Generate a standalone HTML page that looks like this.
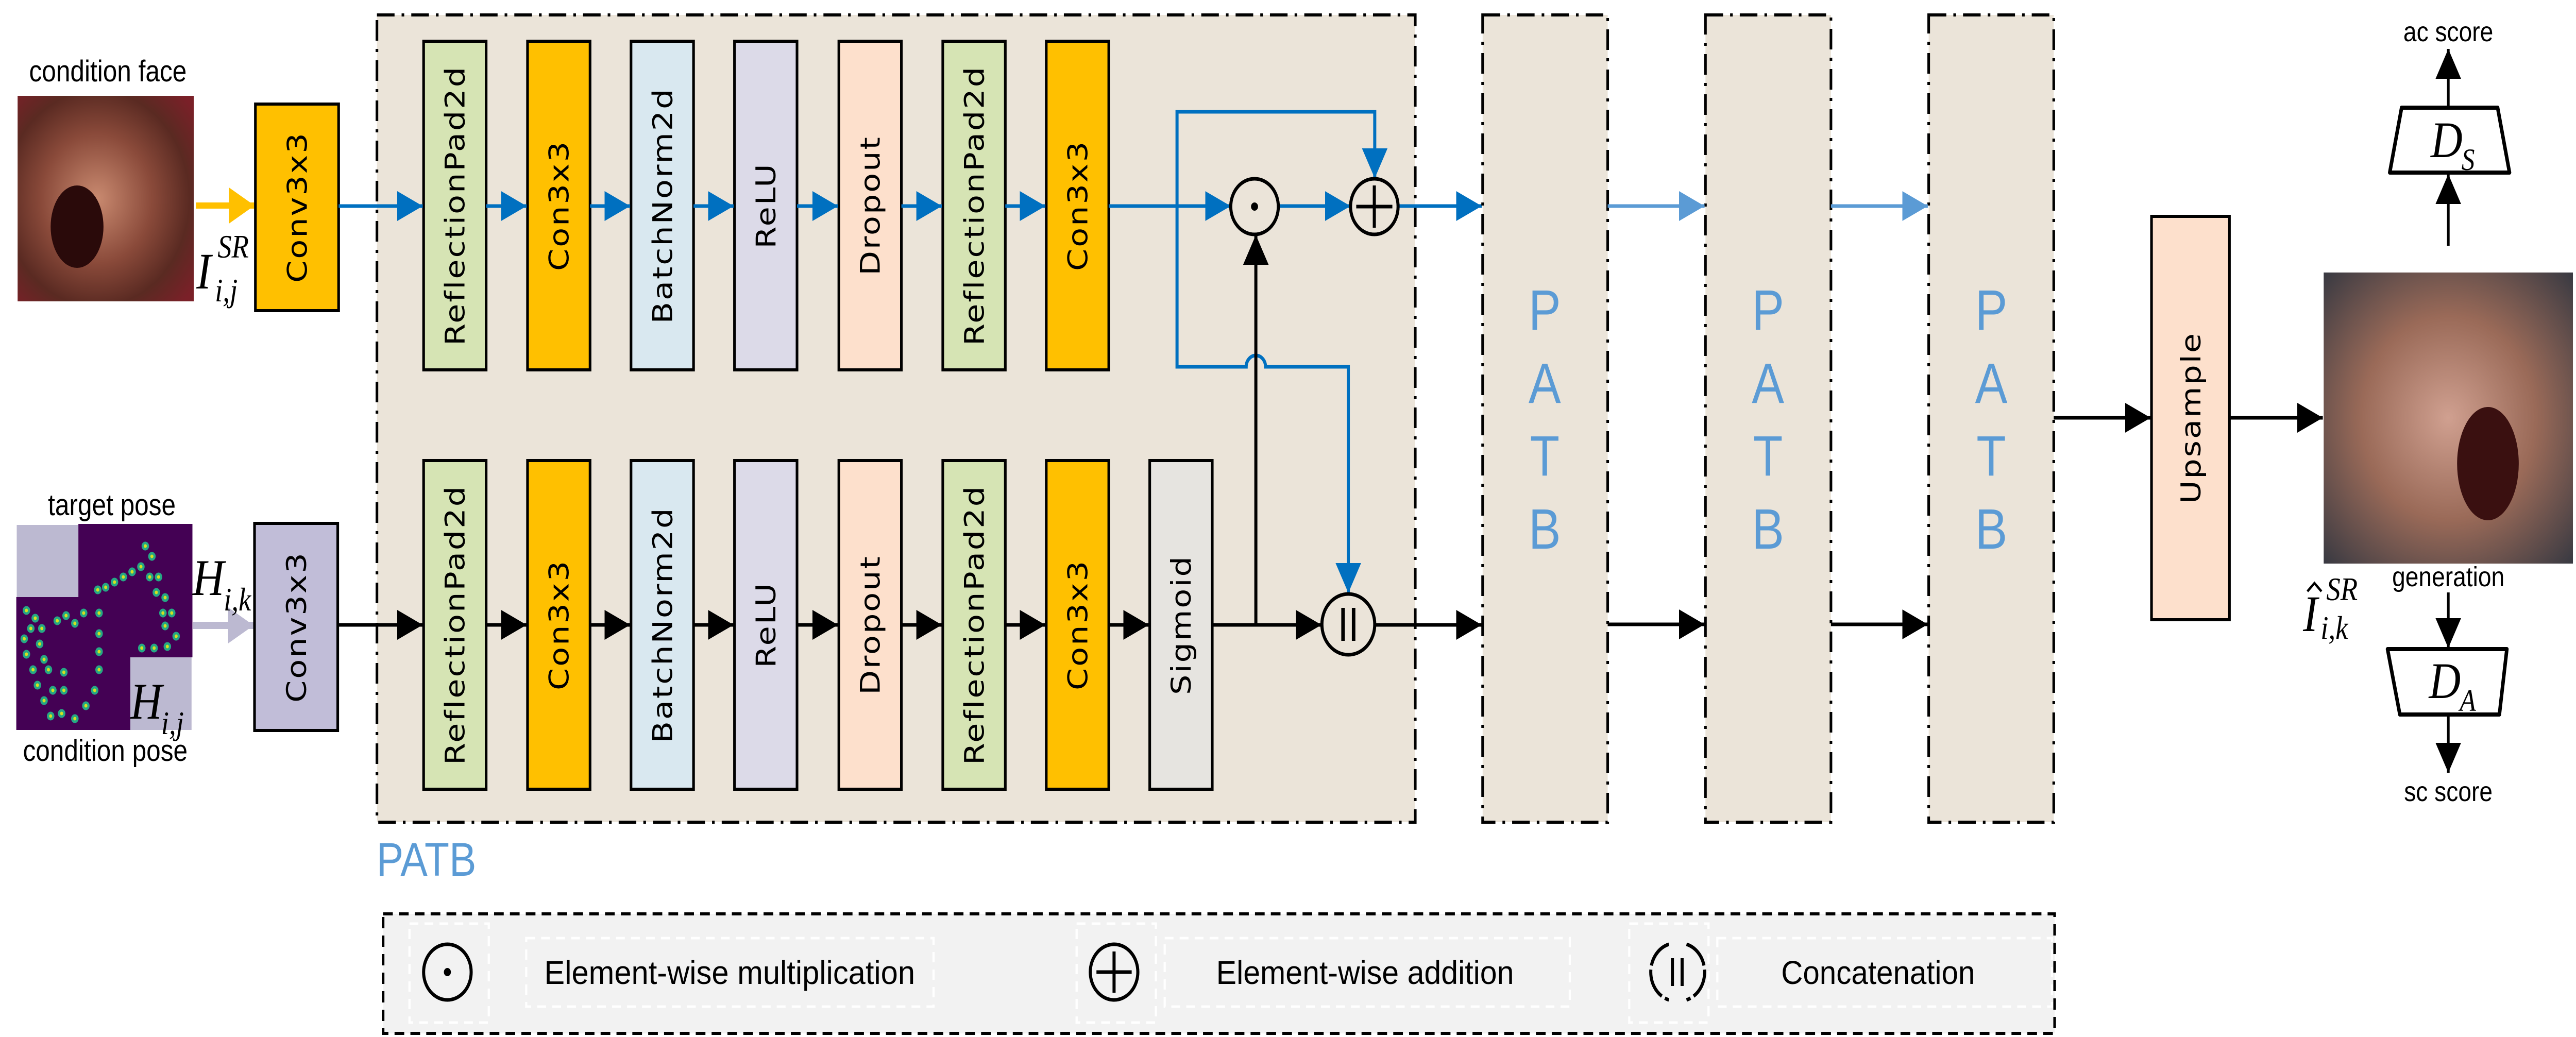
<!DOCTYPE html>
<html><head><meta charset="utf-8"><style>
html,body{margin:0;padding:0;background:#fff;width:100%;height:100%;overflow:hidden;}
svg{display:block;width:100vw;height:100vh;}
.bt{font-family:"DejaVu Sans",sans-serif;font-size:62px;fill:#000;letter-spacing:3px;}
.lb{font-family:"Liberation Sans",sans-serif;fill:#000;}
.mi{font-family:"Liberation Serif",serif;font-style:italic;fill:#000;}
.pt{font-family:"Liberation Sans",sans-serif;font-size:110px;fill:#5b9bd5;}
</style></head><body>
<svg viewBox="0 0 5850 2013" preserveAspectRatio="none" xmlns="http://www.w3.org/2000/svg">
<defs>
<marker id="ab" markerUnits="userSpaceOnUse" markerWidth="60" markerHeight="60" refX="58" refY="29" orient="auto"><path d="M0,0 L58,29 L0,58 Z" fill="#0070c0"/></marker>
<marker id="ak" markerUnits="userSpaceOnUse" markerWidth="60" markerHeight="60" refX="58" refY="29" orient="auto"><path d="M0,0 L58,29 L0,58 Z" fill="#000"/></marker>
<marker id="al" markerUnits="userSpaceOnUse" markerWidth="60" markerHeight="60" refX="58" refY="29" orient="auto"><path d="M0,0 L58,29 L0,58 Z" fill="#5b9bd5"/></marker>
<marker id="ao" markerUnits="userSpaceOnUse" markerWidth="60" markerHeight="80" refX="58" refY="35" orient="auto"><path d="M0,0 L58,35 L0,70 Z" fill="#ffc000"/></marker>
<marker id="ap" markerUnits="userSpaceOnUse" markerWidth="60" markerHeight="80" refX="58" refY="35" orient="auto"><path d="M0,0 L58,35 L0,70 Z" fill="#bcb9d1"/></marker>
<radialGradient id="f1" cx="0.45" cy="0.5" r="0.7"><stop offset="0" stop-color="#c98a70"/><stop offset="0.45" stop-color="#8a4a3a"/><stop offset="0.75" stop-color="#5a2a22"/><stop offset="1" stop-color="#7a2028"/></radialGradient>
<radialGradient id="f2" cx="0.5" cy="0.5" r="0.7"><stop offset="0" stop-color="#d0a090"/><stop offset="0.5" stop-color="#9a6a58"/><stop offset="1" stop-color="#3a3a42"/></radialGradient>
</defs>

<text class="lb" x="245" y="158" font-size="58" text-anchor="middle">condition face</text>
<rect x="40" y="186" width="400" height="399" fill="url(#f1)"/>
<ellipse cx="175" cy="440" rx="60" ry="80" fill="#2a0a0a"/>
<path d="M445,399 L578,399" stroke="#ffc000" stroke-width="12" marker-end="url(#ao)"/>
<text class="mi" x="446" y="560" font-size="100">I</text>
<text class="mi" x="494" y="500" font-size="64">SR</text>
<text class="mi" x="488" y="585" font-size="64">i,j</text>
<rect x="580" y="202" width="189" height="401" fill="#ffc000" stroke="#000" stroke-width="6"/>
<text class="bt" transform="translate(697,402) rotate(-90)" text-anchor="middle">Conv3x3</text>

<text class="lb" x="254" y="1000" font-size="58" text-anchor="middle">target pose</text>
<rect x="38" y="1019" width="140" height="140" fill="#bcb9d1"/>
<rect x="178" y="1017" width="259" height="259" fill="#440154"/>
<rect x="37" y="1159" width="259" height="258" fill="#440154"/>
<rect x="296" y="1276" width="139" height="141" fill="#bcb9d1"/>
<g fill="#d5e21f" stroke="#26a784" stroke-width="5">
<circle cx="330" cy="1060" r="6"/><circle cx="345" cy="1080" r="6"/><circle cx="320" cy="1100" r="6"/><circle cx="300" cy="1110" r="6"/><circle cx="280" cy="1120" r="6"/><circle cx="260" cy="1130" r="6"/><circle cx="240" cy="1140" r="6"/><circle cx="222" cy="1145" r="6"/><circle cx="360" cy="1120" r="6"/><circle cx="375" cy="1160" r="6"/><circle cx="390" cy="1190" r="6"/><circle cx="375" cy="1215" r="6"/><circle cx="400" cy="1235" r="6"/><circle cx="380" cy="1255" r="6"/><circle cx="350" cy="1258" r="6"/><circle cx="322" cy="1258" r="6"/><circle cx="340" cy="1120" r="6"/><circle cx="355" cy="1150" r="6"/><circle cx="370" cy="1190" r="6"/>
<circle cx="60" cy="1185" r="6"/><circle cx="80" cy="1200" r="6"/><circle cx="70" cy="1220" r="6"/><circle cx="55" cy="1240" r="6"/><circle cx="60" cy="1270" r="6"/><circle cx="75" cy="1300" r="6"/><circle cx="85" cy="1330" r="6"/><circle cx="100" cy="1360" r="6"/><circle cx="115" cy="1390" r="6"/><circle cx="140" cy="1385" r="6"/><circle cx="95" cy="1220" r="6"/><circle cx="130" cy="1205" r="6"/><circle cx="150" cy="1195" r="6"/><circle cx="170" cy="1210" r="6"/><circle cx="190" cy="1190" r="6"/><circle cx="225" cy="1190" r="6"/><circle cx="225" cy="1230" r="6"/><circle cx="225" cy="1265" r="6"/><circle cx="225" cy="1300" r="6"/><circle cx="215" cy="1340" r="6"/><circle cx="195" cy="1370" r="6"/><circle cx="170" cy="1395" r="6"/><circle cx="90" cy="1250" r="6"/><circle cx="100" cy="1280" r="6"/><circle cx="110" cy="1300" r="6"/><circle cx="145" cy="1305" r="6"/><circle cx="145" cy="1340" r="6"/><circle cx="120" cy="1340" r="6"/>
</g>
<path d="M438,1214 L576,1214" stroke="#bcb9d1" stroke-width="14" marker-end="url(#ap)"/>
<text class="mi" x="437" y="1155" font-size="100">H</text>
<text class="mi" x="508" y="1185" font-size="64">i,k</text>
<text class="mi" x="296" y="1395" font-size="100">H</text>
<text class="mi" x="366" y="1425" font-size="64">i,j</text>
<text class="lb" x="239" y="1477" font-size="58" text-anchor="middle">condition pose</text>
<rect x="578" y="1016" width="189" height="402" fill="#c1bdd8" stroke="#000" stroke-width="6"/>
<text class="bt" transform="translate(695,1217) rotate(-90)" text-anchor="middle">Conv3x3</text>

<rect x="856" y="29" width="2358" height="1567" fill="#ebe4d9" stroke="#000" stroke-width="6" stroke-dasharray="40 16 6 16"/>
<text x="855" y="1700" font-family="Liberation Sans,sans-serif" font-size="92" fill="#5b9bd5">PATB</text>

<g stroke="#000" stroke-width="6">
<rect x="962" y="80" width="142" height="638" fill="#d6e4b4"/>
<rect x="1198" y="80" width="142" height="638" fill="#ffc000"/>
<rect x="1433" y="80" width="142" height="638" fill="#d9e8f0"/>
<rect x="1668" y="80" width="142" height="638" fill="#dcdae8"/>
<rect x="1905" y="80" width="142" height="638" fill="#fde0cc"/>
<rect x="2141" y="80" width="142" height="638" fill="#d6e4b4"/>
<rect x="2376" y="80" width="142" height="638" fill="#ffc000"/>
<rect x="962" y="894" width="142" height="638" fill="#d6e4b4"/>
<rect x="1198" y="894" width="142" height="638" fill="#ffc000"/>
<rect x="1433" y="894" width="142" height="638" fill="#d9e8f0"/>
<rect x="1668" y="894" width="142" height="638" fill="#dcdae8"/>
<rect x="1905" y="894" width="142" height="638" fill="#fde0cc"/>
<rect x="2141" y="894" width="142" height="638" fill="#d6e4b4"/>
<rect x="2376" y="894" width="142" height="638" fill="#ffc000"/>
<rect x="2611" y="894" width="142" height="638" fill="#e6e4e0"/>
</g>
<g class="bt" text-anchor="middle">
<text transform="translate(1055,399) rotate(-90)">ReflectionPad2d</text>
<text transform="translate(1291,399) rotate(-90)">Con3x3</text>
<text transform="translate(1526,399) rotate(-90)">BatchNorm2d</text>
<text transform="translate(1761,399) rotate(-90)">ReLU</text>
<text transform="translate(1998,399) rotate(-90)">Dropout</text>
<text transform="translate(2234,399) rotate(-90)">ReflectionPad2d</text>
<text transform="translate(2469,399) rotate(-90)">Con3x3</text>
<text transform="translate(1055,1213) rotate(-90)">ReflectionPad2d</text>
<text transform="translate(1291,1213) rotate(-90)">Con3x3</text>
<text transform="translate(1526,1213) rotate(-90)">BatchNorm2d</text>
<text transform="translate(1761,1213) rotate(-90)">ReLU</text>
<text transform="translate(1998,1213) rotate(-90)">Dropout</text>
<text transform="translate(2234,1213) rotate(-90)">ReflectionPad2d</text>
<text transform="translate(2469,1213) rotate(-90)">Con3x3</text>
<text transform="translate(2704,1213) rotate(-90)">Sigmoid</text>
</g>

<g stroke="#0070c0" stroke-width="7" fill="none">
<path d="M769,400 L960,400" marker-end="url(#ab)"/>
<path d="M1104,400 L1196,400" marker-end="url(#ab)"/>
<path d="M1340,400 L1431,400" marker-end="url(#ab)"/>
<path d="M1575,400 L1666,400" marker-end="url(#ab)"/>
<path d="M1810,400 L1903,400" marker-end="url(#ab)"/>
<path d="M2047,400 L2139,400" marker-end="url(#ab)"/>
<path d="M2283,400 L2374,400" marker-end="url(#ab)"/>
<path d="M2518,400 L2795,400" marker-end="url(#ab)"/>
<path d="M2903,400 L3067,400" marker-end="url(#ab)"/>
<path d="M3175,400 L3365,400" marker-end="url(#ab)"/>
<path d="M2673,400 L2673,217 L3122,217 L3122,346" marker-end="url(#ab)"/>
<path d="M2673,400 L2673,712 L2830,712 A22,22 0 0 1 2874,712 L3062,712 L3062,1151" marker-end="url(#ab)"/>
</g>
<g stroke="#000" stroke-width="7" fill="none">
<path d="M767,1213 L960,1213" marker-end="url(#ak)"/>
<path d="M1104,1213 L1196,1213" marker-end="url(#ak)"/>
<path d="M1340,1213 L1431,1213" marker-end="url(#ak)"/>
<path d="M1575,1213 L1666,1213" marker-end="url(#ak)"/>
<path d="M1810,1213 L1903,1213" marker-end="url(#ak)"/>
<path d="M2047,1213 L2139,1213" marker-end="url(#ak)"/>
<path d="M2283,1213 L2374,1213" marker-end="url(#ak)"/>
<path d="M2518,1213 L2609,1213" marker-end="url(#ak)"/>
<path d="M2753,1213 L3001,1213" marker-end="url(#ak)"/>
<path d="M2852,1213 L2852,456" marker-end="url(#ak)"/>
<path d="M3123,1213 L3365,1213" marker-end="url(#ak)"/>
</g>
<g stroke="#000" stroke-width="7" fill="#ebe4d9">
<circle cx="2849" cy="401" r="54"/>
<circle cx="3121" cy="401" r="54"/>
<ellipse cx="3062" cy="1212" rx="60" ry="59"/>
</g>
<circle cx="2849" cy="401" r="8" fill="#000"/>
<path d="M3080,401 L3162,401 M3121,360 L3121,442" stroke="#000" stroke-width="7"/>
<path d="M3050,1180 L3050,1244 M3074,1180 L3074,1244" stroke="#000" stroke-width="8"/>

<g stroke="#000" stroke-width="6" fill="#ebe4d9" stroke-dasharray="40 16 6 16">
<rect x="3367" y="29" width="284" height="1567"/>
<rect x="3873" y="29" width="285" height="1567"/>
<rect x="4380" y="29" width="284" height="1567"/>
</g>
<g class="pt" text-anchor="middle">
<text x="3508" y="640">P</text><text x="3508" y="782">A</text><text x="3508" y="923">T</text><text x="3508" y="1065">B</text>
<text x="4015" y="640">P</text><text x="4015" y="782">A</text><text x="4015" y="923">T</text><text x="4015" y="1065">B</text>
<text x="4522" y="640">P</text><text x="4522" y="782">A</text><text x="4522" y="923">T</text><text x="4522" y="1065">B</text>
</g>
<g stroke="#5b9bd5" stroke-width="7"><path d="M3651,400 L3871,400" marker-end="url(#al)"/><path d="M4158,400 L4378,400" marker-end="url(#al)"/></g>
<g stroke="#000" stroke-width="7" fill="none">
<path d="M3651,1212 L3871,1212" marker-end="url(#ak)"/>
<path d="M4158,1212 L4378,1212" marker-end="url(#ak)"/>
<path d="M4664,811 L4884,811" marker-end="url(#ak)"/>
<path d="M5063,811 L5275,811" marker-end="url(#ak)"/>
</g>
<rect x="4886" y="420" width="177" height="783" fill="#fde0cc" stroke="#000" stroke-width="6"/>
<text class="bt" transform="translate(4997,811) rotate(-90)" text-anchor="middle">Upsample</text>

<rect x="5277" y="529" width="566" height="565" fill="url(#f2)"/>
<ellipse cx="5650" cy="900" rx="70" ry="110" fill="#3a1010"/>
<text class="lb" x="5560" y="1138" font-size="54" text-anchor="middle">generation</text>
<text class="mi" x="5230" y="1225" font-size="100">I</text>
<path d="M5240,1148 L5256,1132 L5272,1148" stroke="#000" stroke-width="5" fill="none"/>
<text class="mi" x="5283" y="1165" font-size="64">SR</text>
<text class="mi" x="5270" y="1240" font-size="64">i,k</text>

<g stroke="#000" stroke-width="6" fill="none">
<path d="M5560,477 L5560,338" marker-end="url(#ak)"/>
<path d="M5560,209 L5560,95" marker-end="url(#ak)"/>
<path d="M5560,1150 L5560,1258" marker-end="url(#ak)"/>
<path d="M5560,1387 L5560,1500" marker-end="url(#ak)"/>
</g>
<g stroke="#000" stroke-width="8" fill="#fff" stroke-linejoin="round">
<path d="M5454,209 L5672,209 L5699,335 L5427,335 Z"/>
<path d="M5422,1260 L5693,1260 L5676,1387 L5450,1387 Z"/>
</g>
<text class="mi" x="5520" y="305" font-size="100">D</text><text class="mi" x="5590" y="330" font-size="60">S</text>
<text class="mi" x="5516" y="1355" font-size="100">D</text><text class="mi" x="5586" y="1380" font-size="60">A</text>
<text class="lb" x="5560" y="80" font-size="54" text-anchor="middle">ac score</text>
<text class="lb" x="5560" y="1555" font-size="54" text-anchor="middle">sc score</text>

<rect x="870" y="1774" width="3796" height="232" fill="#f2f2f2" stroke="#000" stroke-width="6" stroke-dasharray="22 14"/>
<g stroke="#fff" stroke-width="5" fill="none" stroke-dasharray="20 14">
<rect x="930" y="1793" width="180" height="192"/>
<rect x="1195" y="1821" width="925" height="133"/>
<rect x="2445" y="1793" width="180" height="192"/>
<rect x="2645" y="1821" width="920" height="133"/>
<rect x="3700" y="1793" width="180" height="192"/>
<rect x="3900" y="1821" width="760" height="133"/>
</g>
<g stroke="#000" stroke-width="7" fill="none">
<circle cx="1016" cy="1887" r="54"/>
<circle cx="2530" cy="1887" r="54"/>
<path d="M2490,1887 L2570,1887 M2530,1847 L2530,1927"/>
<path d="M3790,1833 A56,56 0 0 0 3790,1941 M3830,1833 A56,56 0 0 1 3830,1941" stroke-dasharray="60 8"/>
<path d="M3798,1860 L3798,1914 M3820,1860 L3820,1914"/>
</g>
<circle cx="1016" cy="1887" r="8" fill="#000"/>
<g class="lb" font-size="64">
<text x="1236" y="1910" textLength="842" lengthAdjust="spacingAndGlyphs">Element-wise multiplication</text>
<text x="2762" y="1910" textLength="676" lengthAdjust="spacingAndGlyphs">Element-wise addition</text>
<text x="4045" y="1910" textLength="440" lengthAdjust="spacingAndGlyphs">Concatenation</text>
</g>
</svg>
</body></html>
